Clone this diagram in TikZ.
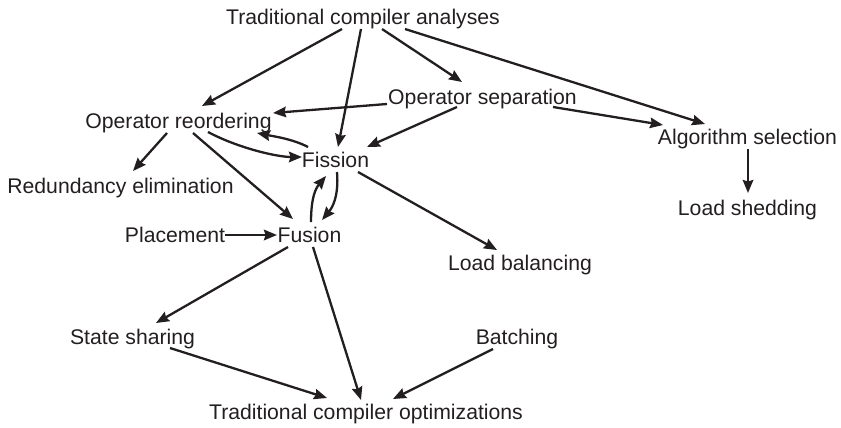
\documentclass[tikz,border=0pt]{standalone}
\usepackage{fontspec}
\setmainfont{Liberation Sans}
\usetikzlibrary{arrows.meta}
\definecolor{ink}{HTML}{231F20}
\begin{document}
\begin{tikzpicture}[x=1pt,y=-1pt,
  lbl/.style={inner sep=0pt,text height=15pt,text depth=0pt,text=ink,font=\fontsize{21.2}{25}\selectfont},
  arr/.style={draw=ink,line width=2.3pt,-{Stealth[length=13pt,width=10.5pt,inset=1.5pt]}}]
\useasboundingbox (0,0) rectangle (841,428);
\node[lbl] (tca) at (363,17) {Traditional compiler analyses};
\node[lbl] (os) at (482.5,97) {Operator separation};
\node[lbl] (or) at (178.5,121) {Operator reordering};
\node[lbl] (fis) at (335.5,160) {Fission};
\node[lbl] (as) at (747.5,137) {Algorithm selection};
\node[lbl] (re) at (120.5,185.5) {Redundancy elimination};
\node[lbl] (ls) at (747.5,208) {Load shedding};
\node[lbl] (pl) at (175,235) {Placement};
\node[lbl] (fu) at (309.5,235) {Fusion};
\node[lbl] (lb) at (520,263) {Load balancing};
\node[lbl] (ss) at (132.5,337) {State sharing};
\node[lbl] (ba) at (517,337) {Batching};
\node[lbl] (tco) at (366,412) {Traditional compiler optimizations};

\draw[arr] ([shift={(-21,12)}]tca.center) -- ([shift={(23.5,-15)}]or.center);
\draw[arr] ([shift={(-2,12)}]tca.center) -- ([shift={(2.5,-13)}]fis.center);
\draw[arr] ([shift={(19,12)}]tca.center) -- ([shift={(-20.5,-15)}]os.center);
\draw[arr] ([shift={(42,12)}]tca.center) -- ([shift={(-42.5,-13)}]as.center);
\draw[arr] ([shift={(-95.5,7)}]os.center) -- ([shift={(94.5,-8)}]or.center);
\draw[arr] ([shift={(-25.5,10)}]os.center) -- ([shift={(31.5,-13)}]fis.center);
\draw[arr] ([shift={(70.5,10)}]os.center) -- ([shift={(-84.5,-12)}]as.center);
\draw[arr] ([shift={(-11.5,12)}]or.center) -- ([shift={(12.5,-14.5)}]re.center);
\draw[arr] ([shift={(29.5,11)}]or.center) .. controls +(30,16) and +(-25,0) .. ([shift={(-33.5,-3)}]fis.center);
\draw[arr] ([shift={(-27.5,-13)}]fis.center) .. controls +(-15,-8) and +(15,3) .. ([shift={(78.5,12)}]or.center);
\draw[arr] ([shift={(14.5,12)}]or.center) -- ([shift={(-16.5,-16)}]fu.center);
\draw[arr] ([shift={(1.5,12)}]fis.center) .. controls +(2,25) and +(10,-12) .. ([shift={(12.5,-15)}]fu.center);
\draw[arr] ([shift={(1.5,-13)}]fu.center) .. controls +(0,-25) and +(-10,12) .. ([shift={(-9.5,16)}]fis.center);
\draw[arr] ([shift={(22.5,12)}]fis.center) -- ([shift={(-23,-13)}]lb.center);
\draw[arr] ([shift={(50,0)}]pl.center) -- ([shift={(-32.5,0)}]fu.center);
\draw[arr] ([shift={(-21.5,12)}]fu.center) -- ([shift={(23.5,-14)}]ss.center);
\draw[arr] ([shift={(3.5,12)}]fu.center) -- ([shift={(-5,-12)}]tco.center);
\draw[arr] ([shift={(37.5,11)}]ss.center) -- ([shift={(-39,-14)}]tco.center);
\draw[arr] ([shift={(-24,12)}]ba.center) -- ([shift={(27,-13)}]tco.center);
\draw[arr] ([shift={(0.5,12)}]as.center) -- ([shift={(0.5,-15)}]ls.center);
\end{tikzpicture}
\end{document}
